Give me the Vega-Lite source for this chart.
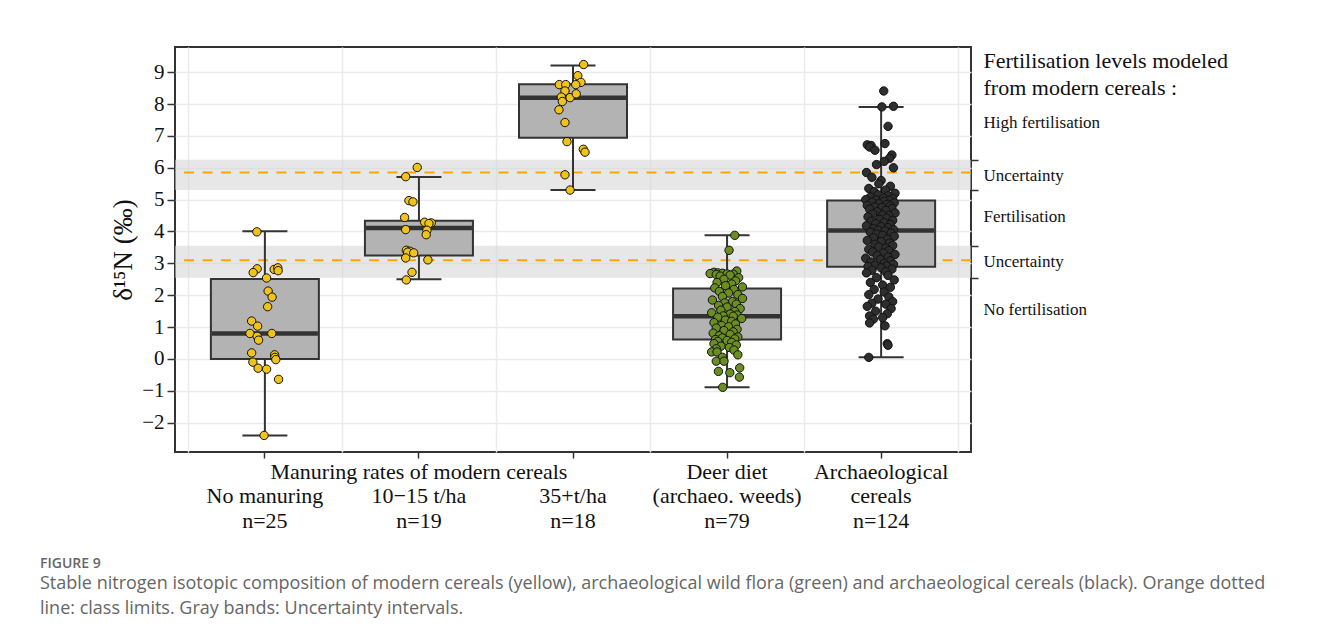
{
  "$schema": "https://vega.github.io/schema/vega-lite/v6.json",
  "width": 796,
  "height": 405,
  "autosize": "none",
  "padding": {"left": 175, "top": 47, "right": 349, "bottom": 190},
  "background": "white",
  "config": {
    "view": {"stroke": "#333333", "strokeWidth": 2},
    "font": "Liberation Serif"
  },
  "title": {
    "text": "FIGURE 9",
    "subtitle": [
      "Stable nitrogen isotopic composition of modern cereals (yellow), archaeological wild flora (green) and archaeological cereals (black). Orange dotted",
      "line: class limits. Gray bands: Uncertainty intervals."
    ],
    "orient": "bottom",
    "anchor": "start",
    "frame": "group",
    "dx": -135,
    "offset": 26,
    "font": "Open Sans",
    "fontSize": 14,
    "fontWeight": 600,
    "color": "#666666",
    "subtitleFont": "Open Sans",
    "subtitleFontSize": 18,
    "subtitleColor": "#666666",
    "subtitleLineHeight": 24.5,
    "subtitlePadding": 4
  },
  "datasets": {
    "bands": [{"lo": 5.3, "hi": 6.25}, {"lo": 2.55, "hi": 3.55}],
    "lines": [{"y": 5.85}, {"y": 3.1}],
    "box": [
      {"g": "A", "lo": -2.4, "q1": 0.0, "med": 0.8, "q3": 2.51, "hi": 4.01},
      {"g": "B", "lo": 2.5, "q1": 3.25, "med": 4.11, "q3": 4.34, "hi": 5.71},
      {"g": "C", "lo": 5.3, "q1": 6.94, "med": 8.2, "q3": 8.62, "hi": 9.21},
      {"g": "D", "lo": -0.89, "q1": 0.61, "med": 1.34, "q3": 2.21, "hi": 3.88},
      {"g": "E", "lo": 0.05, "q1": 2.89, "med": 4.03, "q3": 4.97, "hi": 7.91}
    ],
    "pts": [
      {"g": "A", "v": 3.99, "j": -0.052}, {"g": "A", "v": 2.83, "j": -0.05}, {"g": "A", "v": 2.71, "j": -0.076},
      {"g": "A", "v": 2.81, "j": 0.06}, {"g": "A", "v": 2.86, "j": 0.084}, {"g": "A", "v": 2.77, "j": 0.086},
      {"g": "A", "v": 2.54, "j": 0.011}, {"g": "A", "v": 2.13, "j": 0.021}, {"g": "A", "v": 1.94, "j": 0.047},
      {"g": "A", "v": 1.64, "j": 0.018}, {"g": "A", "v": 1.19, "j": -0.086}, {"g": "A", "v": 1.03, "j": -0.047},
      {"g": "A", "v": 0.8, "j": -0.097}, {"g": "A", "v": 0.8, "j": 0.045}, {"g": "A", "v": 0.71, "j": -0.05},
      {"g": "A", "v": 0.59, "j": -0.041}, {"g": "A", "v": 0.19, "j": -0.086}, {"g": "A", "v": 0.13, "j": 0.063},
      {"g": "A", "v": 0.05, "j": 0.065}, {"g": "A", "v": -0.02, "j": 0.071}, {"g": "A", "v": -0.1, "j": -0.078},
      {"g": "A", "v": -0.29, "j": -0.044}, {"g": "A", "v": -0.32, "j": 0.011}, {"g": "A", "v": -0.64, "j": 0.089},
      {"g": "A", "v": -2.4, "j": -0.005},
      {"g": "B", "v": 6.01, "j": -0.011}, {"g": "B", "v": 5.72, "j": -0.086}, {"g": "B", "v": 4.97, "j": -0.065},
      {"g": "B", "v": 4.93, "j": -0.039}, {"g": "B", "v": 4.44, "j": -0.093}, {"g": "B", "v": 4.29, "j": 0.037},
      {"g": "B", "v": 4.27, "j": 0.08}, {"g": "B", "v": 4.25, "j": 0.065}, {"g": "B", "v": 4.06, "j": -0.086},
      {"g": "B", "v": 4.04, "j": 0.052}, {"g": "B", "v": 3.9, "j": 0.047}, {"g": "B", "v": 3.41, "j": -0.082},
      {"g": "B", "v": 3.38, "j": -0.058}, {"g": "B", "v": 3.35, "j": -0.073}, {"g": "B", "v": 3.33, "j": -0.034},
      {"g": "B", "v": 3.17, "j": -0.086}, {"g": "B", "v": 3.11, "j": 0.058}, {"g": "B", "v": 2.72, "j": -0.045},
      {"g": "B", "v": 2.48, "j": -0.082},
      {"g": "C", "v": 9.24, "j": 0.069}, {"g": "C", "v": 8.89, "j": 0.031}, {"g": "C", "v": 8.68, "j": 0.052},
      {"g": "C", "v": 8.61, "j": -0.089}, {"g": "C", "v": 8.61, "j": -0.047}, {"g": "C", "v": 8.61, "j": 0.018},
      {"g": "C", "v": 8.41, "j": -0.052}, {"g": "C", "v": 8.22, "j": -0.076}, {"g": "C", "v": 8.2, "j": -0.019},
      {"g": "C", "v": 8.32, "j": 0.021}, {"g": "C", "v": 8.08, "j": -0.069}, {"g": "C", "v": 7.82, "j": -0.091},
      {"g": "C", "v": 7.42, "j": -0.052}, {"g": "C", "v": 6.82, "j": -0.039}, {"g": "C", "v": 6.58, "j": 0.067},
      {"g": "C", "v": 6.49, "j": 0.078}, {"g": "C", "v": 5.78, "j": -0.052}, {"g": "C", "v": 5.3, "j": -0.019},
      {"g": "D", "v": 3.88, "j": 0.05}, {"g": "D", "v": 3.41, "j": 0.013}, {"g": "D", "v": 2.76, "j": 0.063},
      {"g": "D", "v": 2.72, "j": -0.085}, {"g": "D", "v": 2.7, "j": -0.06}, {"g": "D", "v": 2.69, "j": -0.03},
      {"g": "D", "v": 2.68, "j": -0.11}, {"g": "D", "v": 2.67, "j": 0.0}, {"g": "D", "v": 2.66, "j": 0.04},
      {"g": "D", "v": 2.65, "j": -0.07}, {"g": "D", "v": 2.63, "j": 0.02}, {"g": "D", "v": 2.6, "j": -0.045},
      {"g": "D", "v": 2.55, "j": 0.075}, {"g": "D", "v": 2.5, "j": -0.02}, {"g": "D", "v": 2.45, "j": 0.055},
      {"g": "D", "v": 2.4, "j": -0.065}, {"g": "D", "v": 2.35, "j": 0.03}, {"g": "D", "v": 2.3, "j": -0.01},
      {"g": "D", "v": 2.26, "j": 0.1}, {"g": "D", "v": 2.23, "j": -0.08}, {"g": "D", "v": 2.18, "j": 0.045},
      {"g": "D", "v": 2.12, "j": -0.05}, {"g": "D", "v": 2.07, "j": 0.01}, {"g": "D", "v": 2.02, "j": 0.07},
      {"g": "D", "v": 1.96, "j": -0.03}, {"g": "D", "v": 1.9, "j": 0.1}, {"g": "D", "v": 1.85, "j": -0.095},
      {"g": "D", "v": 1.8, "j": 0.035}, {"g": "D", "v": 1.76, "j": -0.015}, {"g": "D", "v": 1.72, "j": 0.06},
      {"g": "D", "v": 1.68, "j": -0.055}, {"g": "D", "v": 1.63, "j": 0.0}, {"g": "D", "v": 1.58, "j": 0.085},
      {"g": "D", "v": 1.53, "j": -0.04}, {"g": "D", "v": 1.49, "j": 0.05}, {"g": "D", "v": 1.45, "j": -0.1},
      {"g": "D", "v": 1.41, "j": 0.02}, {"g": "D", "v": 1.38, "j": 0.065}, {"g": "D", "v": 1.35, "j": -0.025},
      {"g": "D", "v": 1.34, "j": 0.04}, {"g": "D", "v": 1.31, "j": -0.06}, {"g": "D", "v": 1.27, "j": 0.095},
      {"g": "D", "v": 1.22, "j": -0.01}, {"g": "D", "v": 1.18, "j": 0.03}, {"g": "D", "v": 1.14, "j": -0.085},
      {"g": "D", "v": 1.1, "j": 0.055}, {"g": "D", "v": 1.05, "j": -0.035}, {"g": "D", "v": 1.01, "j": 0.01},
      {"g": "D", "v": 0.97, "j": -0.07}, {"g": "D", "v": 0.93, "j": 0.065}, {"g": "D", "v": 0.89, "j": -0.02},
      {"g": "D", "v": 0.85, "j": 0.04}, {"g": "D", "v": 0.81, "j": -0.09}, {"g": "D", "v": 0.77, "j": 0.02},
      {"g": "D", "v": 0.73, "j": -0.05}, {"g": "D", "v": 0.69, "j": 0.07}, {"g": "D", "v": 0.66, "j": -0.03},
      {"g": "D", "v": 0.63, "j": 0.05}, {"g": "D", "v": 0.61, "j": -0.075}, {"g": "D", "v": 0.58, "j": 0.0},
      {"g": "D", "v": 0.55, "j": -0.06}, {"g": "D", "v": 0.52, "j": 0.03}, {"g": "D", "v": 0.48, "j": -0.085},
      {"g": "D", "v": 0.44, "j": 0.06}, {"g": "D", "v": 0.4, "j": -0.04}, {"g": "D", "v": 0.36, "j": 0.015},
      {"g": "D", "v": 0.32, "j": -0.07}, {"g": "D", "v": 0.28, "j": 0.045}, {"g": "D", "v": 0.22, "j": -0.1},
      {"g": "D", "v": 0.22, "j": -0.065}, {"g": "D", "v": 0.13, "j": 0.07}, {"g": "D", "v": 0.05, "j": -0.03},
      {"g": "D", "v": -0.07, "j": -0.07}, {"g": "D", "v": -0.07, "j": -0.02}, {"g": "D", "v": -0.28, "j": 0.082},
      {"g": "D", "v": -0.39, "j": -0.056}, {"g": "D", "v": -0.43, "j": 0.018}, {"g": "D", "v": -0.57, "j": 0.08},
      {"g": "D", "v": -0.89, "j": -0.028},
      {"g": "E", "v": 8.41, "j": 0.017}, {"g": "E", "v": 7.93, "j": 0.08}, {"g": "E", "v": 7.91, "j": 0.005},
      {"g": "E", "v": 7.3, "j": 0.045}, {"g": "E", "v": 6.76, "j": 0.025}, {"g": "E", "v": 6.72, "j": -0.09},
      {"g": "E", "v": 6.7, "j": -0.065}, {"g": "E", "v": 6.65, "j": -0.075}, {"g": "E", "v": 6.55, "j": -0.04},
      {"g": "E", "v": 6.4, "j": 0.07}, {"g": "E", "v": 6.3, "j": 0.055}, {"g": "E", "v": 6.2, "j": 0.02},
      {"g": "E", "v": 6.1, "j": -0.03}, {"g": "E", "v": 6.0, "j": 0.08}, {"g": "E", "v": 5.85, "j": -0.095},
      {"g": "E", "v": 5.7, "j": -0.06}, {"g": "E", "v": 5.6, "j": 0.0}, {"g": "E", "v": 5.5, "j": -0.015},
      {"g": "E", "v": 5.42, "j": 0.06}, {"g": "E", "v": 5.35, "j": -0.08}, {"g": "E", "v": 5.3, "j": 0.03},
      {"g": "E", "v": 5.25, "j": -0.045}, {"g": "E", "v": 5.2, "j": 0.09}, {"g": "E", "v": 5.15, "j": -0.02},
      {"g": "E", "v": 5.12, "j": 0.045}, {"g": "E", "v": 5.08, "j": -0.07}, {"g": "E", "v": 5.05, "j": 0.015},
      {"g": "E", "v": 5.03, "j": 0.075}, {"g": "E", "v": 5.0, "j": -0.1}, {"g": "E", "v": 4.99, "j": -0.035},
      {"g": "E", "v": 4.98, "j": 0.05},
      {"g": "E", "v": 4.95, "j": 0.02}, {"g": "E", "v": 4.92, "j": -0.06}, {"g": "E", "v": 4.9, "j": 0.085},
      {"g": "E", "v": 4.87, "j": -0.015}, {"g": "E", "v": 4.85, "j": 0.04}, {"g": "E", "v": 4.82, "j": -0.09},
      {"g": "E", "v": 4.8, "j": 0.06}, {"g": "E", "v": 4.77, "j": -0.04}, {"g": "E", "v": 4.75, "j": 0.005},
      {"g": "E", "v": 4.72, "j": 0.07}, {"g": "E", "v": 4.7, "j": -0.075}, {"g": "E", "v": 4.66, "j": 0.03},
      {"g": "E", "v": 4.62, "j": -0.025}, {"g": "E", "v": 4.58, "j": 0.09}, {"g": "E", "v": 4.55, "j": -0.055},
      {"g": "E", "v": 4.52, "j": 0.01}, {"g": "E", "v": 4.5, "j": 0.05}, {"g": "E", "v": 4.46, "j": -0.085},
      {"g": "E", "v": 4.42, "j": 0.035}, {"g": "E", "v": 4.38, "j": -0.01}, {"g": "E", "v": 4.35, "j": 0.075},
      {"g": "E", "v": 4.32, "j": -0.065}, {"g": "E", "v": 4.28, "j": 0.02}, {"g": "E", "v": 4.25, "j": -0.035},
      {"g": "E", "v": 4.22, "j": 0.06}, {"g": "E", "v": 4.18, "j": -0.095}, {"g": "E", "v": 4.15, "j": 0.0},
      {"g": "E", "v": 4.12, "j": 0.045}, {"g": "E", "v": 4.09, "j": -0.05}, {"g": "E", "v": 4.06, "j": 0.08},
      {"g": "E", "v": 4.04, "j": -0.02},
      {"g": "E", "v": 4.02, "j": 0.025}, {"g": "E", "v": 3.98, "j": -0.07}, {"g": "E", "v": 3.95, "j": 0.065},
      {"g": "E", "v": 3.92, "j": -0.03}, {"g": "E", "v": 3.88, "j": 0.01}, {"g": "E", "v": 3.85, "j": 0.085},
      {"g": "E", "v": 3.8, "j": -0.05}, {"g": "E", "v": 3.76, "j": 0.04}, {"g": "E", "v": 3.72, "j": -0.09},
      {"g": "E", "v": 3.68, "j": 0.0}, {"g": "E", "v": 3.64, "j": 0.055}, {"g": "E", "v": 3.6, "j": -0.04},
      {"g": "E", "v": 3.56, "j": 0.075}, {"g": "E", "v": 3.52, "j": -0.015}, {"g": "E", "v": 3.48, "j": 0.03},
      {"g": "E", "v": 3.44, "j": -0.08}, {"g": "E", "v": 3.4, "j": 0.05}, {"g": "E", "v": 3.36, "j": -0.055},
      {"g": "E", "v": 3.32, "j": 0.015}, {"g": "E", "v": 3.28, "j": 0.09}, {"g": "E", "v": 3.24, "j": -0.025},
      {"g": "E", "v": 3.2, "j": 0.045}, {"g": "E", "v": 3.16, "j": -0.1}, {"g": "E", "v": 3.12, "j": -0.005},
      {"g": "E", "v": 3.08, "j": 0.06}, {"g": "E", "v": 3.04, "j": -0.065}, {"g": "E", "v": 3.0, "j": 0.02},
      {"g": "E", "v": 2.97, "j": 0.08}, {"g": "E", "v": 2.94, "j": -0.04}, {"g": "E", "v": 2.92, "j": 0.035},
      {"g": "E", "v": 2.9, "j": -0.085},
      {"g": "E", "v": 2.86, "j": 0.0}, {"g": "E", "v": 2.82, "j": 0.07}, {"g": "E", "v": 2.78, "j": -0.06},
      {"g": "E", "v": 2.74, "j": 0.03}, {"g": "E", "v": 2.7, "j": -0.095}, {"g": "E", "v": 2.62, "j": 0.045},
      {"g": "E", "v": 2.55, "j": -0.03}, {"g": "E", "v": 2.48, "j": 0.085}, {"g": "E", "v": 2.4, "j": -0.07},
      {"g": "E", "v": 2.32, "j": 0.01}, {"g": "E", "v": 2.25, "j": 0.06}, {"g": "E", "v": 2.18, "j": -0.045},
      {"g": "E", "v": 2.1, "j": 0.02}, {"g": "E", "v": 2.02, "j": -0.08}, {"g": "E", "v": 1.95, "j": 0.05},
      {"g": "E", "v": 1.88, "j": -0.02}, {"g": "E", "v": 1.8, "j": 0.075}, {"g": "E", "v": 1.75, "j": -0.06},
      {"g": "E", "v": 1.72, "j": 0.03}, {"g": "E", "v": 1.65, "j": -0.09}, {"g": "E", "v": 1.58, "j": 0.065},
      {"g": "E", "v": 1.5, "j": -0.035}, {"g": "E", "v": 1.42, "j": 0.04}, {"g": "E", "v": 1.35, "j": -0.075},
      {"g": "E", "v": 1.3, "j": 0.01}, {"g": "E", "v": 1.25, "j": -0.05}, {"g": "E", "v": 1.13, "j": -0.075},
      {"g": "E", "v": 1.04, "j": 0.025}, {"g": "E", "v": 0.48, "j": 0.04}, {"g": "E", "v": 0.43, "j": 0.045},
      {"g": "E", "v": 0.05, "j": -0.08}
    ]
  },
  "layer": [
    {
      "data": {"name": "bands"},
      "mark": {"type": "rect", "color": "#d4d4d4", "opacity": 0.55},
      "encoding": {
        "y": {
          "field": "lo", "type": "quantitative",
          "scale": {"domain": [-2.92, 9.79], "nice": false, "zero": false},
          "axis": {
            "orient": "left",
            "values": [-2, -1, 0, 1, 2, 3, 4, 5, 6, 7, 8, 9],
            "format": "d",
            "grid": true, "gridColor": "#ebebeb", "gridWidth": 1.5,
            "domain": false,
            "tickSize": 8, "tickColor": "#333333", "tickWidth": 1.5,
            "labelFont": "Liberation Serif", "labelFontSize": 21, "labelColor": "#111111", "labelPadding": 3,
            "title": "δ¹⁵N (‰)",
            "titleFont": "Liberation Serif", "titleFontSize": 27, "titleFontWeight": "normal", "titleColor": "#111111",
            "titlePadding": 4
          }
        },
        "y2": {"field": "hi"}
      }
    },
    {
      "data": {"name": "lines"},
      "mark": {"type": "rule", "color": "#FFA500", "strokeWidth": 2, "strokeDash": [10, 8.5], "opacity": 1},
      "encoding": {
        "y": {
          "field": "y", "type": "quantitative",
          "axis": {
            "orient": "right",
            "values": [1.55, 2.55, 3.05, 3.55, 4.46, 5.3, 5.77, 6.25, 7.41],
            "grid": false, "domain": false,
            "tickSize": 7, "tickColor": "#333333", "tickWidth": 1.5,
            "tickOpacity": {"condition": {"test": "datum.value == 2.55 || datum.value == 3.55 || datum.value == 5.3 || datum.value == 6.25", "value": 1}, "value": 0},
            "labelExpr": "datum.value == 7.41 ? 'High fertilisation' : (datum.value == 5.77 || datum.value == 3.05) ? 'Uncertainty' : datum.value == 4.46 ? 'Fertilisation' : datum.value == 1.55 ? 'No fertilisation' : ''",
            "labelFont": "Liberation Serif", "labelFontSize": 17, "labelColor": "#111111",
            "labelPadding": 5, "labelAlign": "left", "labelBaseline": "middle",
            "labelOverlap": false, "labelBound": false, "labelFlush": false, "labelLimit": 300,
            "title": ["Fertilisation levels modeled", "from modern cereals :"],
            "titleAngle": 0, "titleAlign": "left", "titleBaseline": "top",
            "titleX": 12, "titleY": 3,
            "titleFont": "Liberation Serif", "titleFontSize": 22, "titleFontWeight": "normal", "titleColor": "#111111",
            "titleLineHeight": 27.6
          }
        }
      }
    },
    {
      "data": {"name": "box"},
      "mark": {"type": "rule", "color": "#333333", "strokeWidth": 2, "opacity": 1},
      "encoding": {
        "x": {
          "field": "g", "type": "nominal",
          "scale": {"type": "band", "paddingInner": 0, "paddingOuter": 0.0834},
          "axis": {
            "orient": "bottom", "tickBand": "extent",
            "grid": true, "gridColor": "#ebebeb", "gridWidth": 1.5,
            "ticks": false, "labels": false, "domain": false, "title": null
          }
        },
        "y": {"field": "lo", "type": "quantitative", "axis": null},
        "y2": {"field": "hi"}
      }
    },
    {
      "data": {"name": "box"},
      "mark": {"type": "tick", "size": 45, "thickness": 2, "color": "#333333", "opacity": 1},
      "encoding": {
        "x": {"field": "g", "type": "nominal", "axis": null},
        "y": {"field": "lo", "type": "quantitative", "axis": null}
      }
    },
    {
      "data": {"name": "box"},
      "mark": {"type": "tick", "size": 45, "thickness": 2, "color": "#333333", "opacity": 1},
      "encoding": {
        "x": {"field": "g", "type": "nominal", "axis": null},
        "y": {"field": "hi", "type": "quantitative", "axis": null}
      }
    },
    {
      "data": {"name": "box"},
      "mark": {"type": "bar", "size": 108, "fill": "#b3b3b3", "stroke": "#333333", "strokeWidth": 2, "opacity": 1},
      "encoding": {
        "x": {"field": "g", "type": "nominal", "axis": null},
        "y": {"field": "q1", "type": "quantitative", "axis": null},
        "y2": {"field": "q3"}
      }
    },
    {
      "data": {"name": "box"},
      "mark": {"type": "tick", "size": 106, "thickness": 4.5, "color": "#333333", "opacity": 1},
      "encoding": {
        "x": {"field": "g", "type": "nominal", "axis": null},
        "y": {"field": "med", "type": "quantitative", "axis": null}
      }
    },
    {
      "data": {"name": "pts"},
      "mark": {"type": "point", "filled": true, "size": 70, "stroke": "#111111", "strokeWidth": 1, "opacity": 1},
      "encoding": {
        "x": {
          "field": "g", "type": "nominal",
          "axis": {
            "orient": "bottom", "grid": false, "domain": false,
            "ticks": true, "tickSize": 6, "tickColor": "#333333", "tickWidth": 1.5,
            "labelAngle": 0, "labelFont": "Liberation Serif", "labelFontSize": 22, "labelColor": "#111111",
            "labelLineHeight": 24.7, "labelPadding": 3, "labelLimit": 400, "labelOverlap": false, "labelBound": false,
            "labelBaseline": "top",
            "labelExpr": "datum.value == 'A' ? [' ', 'No manuring', 'n=25'] : datum.value == 'B' ? ['Manuring rates of modern cereals', '10−15 t/ha', 'n=19'] : datum.value == 'C' ? [' ', '35+t/ha', 'n=18'] : datum.value == 'D' ? ['Deer diet', '(archaeo. weeds)', 'n=79'] : ['Archaeological', 'cereals', 'n=124']",
            "title": null
          }
        },
        "xOffset": {"field": "j", "type": "quantitative", "scale": {"domain": [-0.5, 0.5]}},
        "y": {"field": "v", "type": "quantitative", "axis": null},
        "fill": {
          "field": "g", "type": "nominal",
          "scale": {"domain": ["A", "B", "C", "D", "E"], "range": ["#F0C31A", "#F0C31A", "#F0C31A", "#6B8E23", "#2E2E2E"]},
          "legend": null
        }
      }
    }
  ],
  "resolve": {"axis": {"x": "independent", "y": "independent"}}
}
